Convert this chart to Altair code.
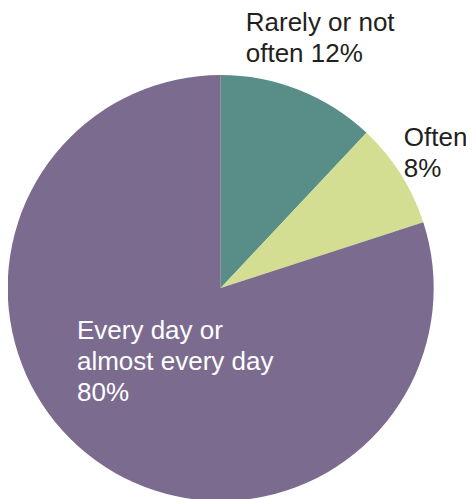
import altair as alt
import pandas as pd

categories = ["Rarely or not often", "Often", "Every day or almost every day"]
values = [12, 8, 80]
order = [1, 2, 3]
colors = ["#588e87", "#d4de92", "#7b6c8f"]
label_lines = [["Rarely or not", "often 12%"], ["Often", "8%"], ["Every day or", "almost every day", "80%"]]

df = pd.DataFrame({"cat": categories, "value": values, "order": order,
                   "label": label_lines})

cx, cy = 212.7, 280
theta_scale = alt.Scale(domain=[0, 100])

pie = alt.Chart(df).mark_arc(outerRadius=213).encode(
    theta=alt.Theta("value:Q", stack=True, scale=theta_scale),
    order=alt.Order("order:Q"),
    color=alt.Color("cat:N", scale=alt.Scale(domain=categories, range=colors), legend=None),
    x=alt.value(cx), y=alt.value(cy),
)

def label(cat, radius, dx, dy, color):
    return alt.Chart(df).transform_window(
        cum="sum(value)", sort=[alt.SortField("order")],
        frame=[None, 0],
    ).transform_calculate(
        mid="datum.cum - datum.value / 2"
    ).transform_filter(
        alt.datum.cat == cat
    ).mark_text(
        radius=radius, dx=dx, dy=dy, align="left", baseline="alphabetic",
        font="Liberation Sans", fontSize=26, lineHeight=31, color=color,
    ).encode(
        theta=alt.Theta("mid:Q", stack=None, scale=theta_scale),
        text="label:N", x=alt.value(cx), y=alt.value(cy),
    )

chart = alt.layer(
    pie,
    label(categories[0], 240, -63.3, -33.8, "#231f20"),
    label(categories[1], 240, -19.5, -13.4, "#231f20"),
    label(categories[2], 120, -73.2, -46.1, "#ffffff"),
).properties(
    width=458, height=491, autosize="none", padding=0,
).configure_view(stroke=None)

chart.save("out.html", embed_options={"renderer": "svg", "actions": False})
